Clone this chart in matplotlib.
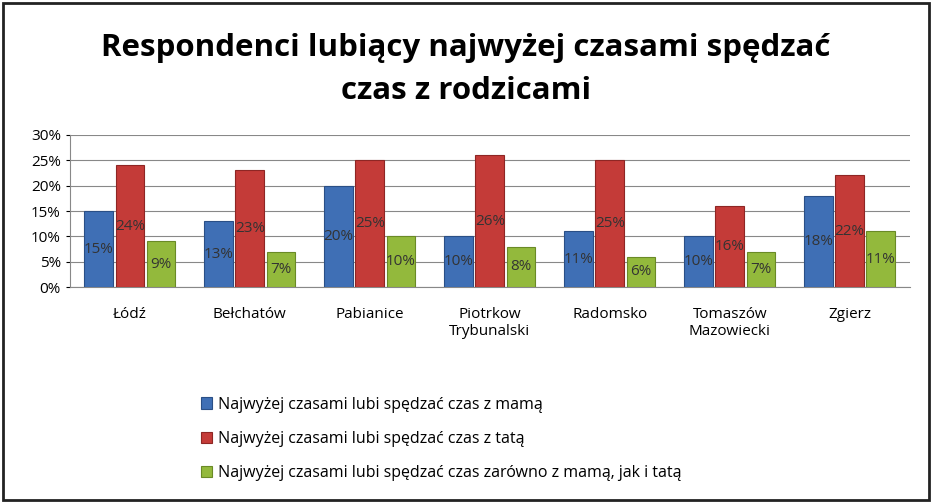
import numpy as np
import matplotlib
matplotlib.use("Agg")
import matplotlib.pyplot as plt
from matplotlib.patches import Rectangle

cities = ["Łódź", "Bełchatów", "Pabianice", "Piotrkow\nTrybunalski", "Radomsko",
          "Tomaszów\nMazowiecki", "Zgierz"]
mama = [15, 13, 20, 10, 11, 10, 18]
tata = [24, 23, 25, 26, 25, 16, 22]
oboje = [9, 7, 10, 8, 6, 7, 11]
series_names = ["Najwyżej czasami lubi spędzać czas z mamą",
                "Najwyżej czasami lubi spędzać czas z tatą",
                "Najwyżej czasami lubi spędzać czas zarówno z mamą, jak i tatą"]
colors = ["#3f6fb5", "#c43b38", "#93b93c"]
edges = ["#2a4f86", "#8e2624", "#6a8a26"]

plt.rcParams["font.family"] = "Open Sans"

fig = plt.figure(figsize=(9.32, 5.03), dpi=100)
fig.patches.append(Rectangle((0.003, 0.005), 0.994, 0.99, transform=fig.transFigure,
                             fill=False, edgecolor="#222222", linewidth=2))
ax = fig.add_axes([0.075, 0.429, 0.901, 0.303])

x = np.arange(len(cities))
w = 0.26
for i, vals in enumerate([mama, tata, oboje]):
    pos = x + (i - 1) * w
    ax.bar(pos, vals, w * 0.92, color=colors[i], edgecolor=edges[i], linewidth=0.8,
           label=series_names[i], zorder=3)
    for p, v in zip(pos, vals):
        ax.text(p, v / 2, f"{v}%", ha="center", va="center", fontsize=11, color="#333333", zorder=4)

ax.set_ylim(0, 30)
ax.set_xlim(-0.5, len(cities) - 0.5)
ax.set_yticks(range(0, 31, 5))
ax.set_yticklabels([f"{t}%" for t in range(0, 31, 5)], fontsize=11)
ax.set_xticks(x)
ax.set_xticklabels(cities, fontsize=11)
ax.tick_params(axis="x", length=0, pad=14)
ax.tick_params(axis="y", length=3)
ax.grid(axis="y", color="#888888", linewidth=0.8, zorder=0)
for s in ["top", "right"]:
    ax.spines[s].set_visible(False)
ax.spines["left"].set_color("#888888")
ax.spines["bottom"].set_color("#888888")

fig.text(0.5, 0.905, "Respondenci lubiący najwyżej czasami spędzać", ha="center", va="center",
         fontsize=22.5, fontweight="bold")
fig.text(0.5, 0.82, "czas z rodzicami", ha="center", va="center", fontsize=22.5, fontweight="bold")

handles, labels = ax.get_legend_handles_labels()
fig.legend(handles, labels, loc="upper left", bbox_to_anchor=(0.2, 0.24), frameon=False,
           fontsize=11.5, handlelength=0.7, handleheight=0.7, labelspacing=1.15, handletextpad=0.4)

fig.savefig("out.png", dpi=100)
